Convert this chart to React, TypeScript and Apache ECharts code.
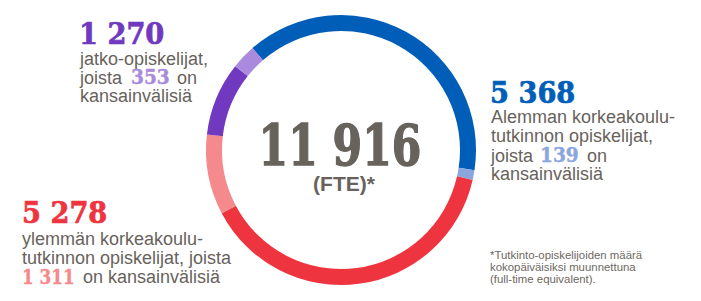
import React, { useEffect, useRef } from "react";
import * as echarts from "echarts";

// Ring segments (arc shares, in degrees of the ring)
const segmentNames = [
  "Alemman korkeakoulututkinnon opiskelijat (muut)",
  "Alemman korkeakoulututkinnon opiskelijat (kansainväliset)",
  "Ylemmän korkeakoulututkinnon opiskelijat (muut)",
  "Ylemmän korkeakoulututkinnon opiskelijat (kansainväliset)",
  "Jatko-opiskelijat (muut)",
  "Jatko-opiskelijat (kansainväliset)",
];
const segmentShares = [139.6, 4.2, 139.3, 34.5, 31.8, 10.6];

// Label numbers
const totalFTE = "11 916";
const totalUnit = "(FTE)*";
const bachelorTotal = "5 368";
const bachelorIntl = "139";
const masterTotal = "5 278";
const masterIntl = "1 311";
const doctoralTotal = "1 270";
const doctoralIntl = "353";
const footnoteLines = [
  "*Tutkinto-opiskelijoiden määrä",
  "kokopäiväisiksi muunnettuna",
  "(full-time equivalent).",
];

const COLORS = {
  blue: "#005eb8",
  lightBlue: "#8aa6dd",
  red: "#ee343f",
  pink: "#f48a8b",
  purple: "#7039bf",
  lightPurple: "#a98adc",
  grey: "#68625c",
  footGrey: "#6e6862",
};
const segmentColors = [
  COLORS.blue,
  COLORS.lightBlue,
  COLORS.red,
  COLORS.pink,
  COLORS.purple,
  COLORS.lightPurple,
];

const SANS = "'Liberation Sans', Arial, sans-serif";
const SERIF = "'DejaVu Serif', serif";

function bigNum(
  text: string,
  x: number,
  y: number,
  fill: string,
  size = 29,
  scaleX = 0.94,
  stroke = 0.7
) {
  return {
    type: "text",
    x,
    y,
    scaleX,
    silent: true,
    style: {
      text,
      fill,
      stroke: fill,
      lineWidth: stroke,
      fontFamily: SERIF,
      fontWeight: "bold",
      fontSize: size,
      textAlign: "left",
      textVerticalAlign: "middle",
    },
  };
}

function line(text: string, x: number, y: number, size = 18, fill = COLORS.grey) {
  return {
    type: "text",
    x,
    y,
    silent: true,
    style: {
      text,
      fill,
      fontFamily: SANS,
      fontSize: size,
      textAlign: "left",
      textVerticalAlign: "middle",
    },
  };
}

export default function App() {
  const ref = useRef<HTMLDivElement>(null);
  useEffect(() => {
    if (!ref.current) return;
    const chart = echarts.init(ref.current, undefined, { renderer: "svg" });
    chart.setOption({
      animation: false,
      backgroundColor: "#ffffff",
      series: [
        {
          type: "pie",
          center: [341, 150],
          radius: [119, 135],
          startAngle: 131,
          clockwise: true,
          silent: true,
          label: { show: false },
          labelLine: { show: false },
          emphasis: { disabled: true },
          itemStyle: { borderWidth: 0 },
          data: segmentShares.map((v, i) => ({
            name: segmentNames[i],
            value: v,
            itemStyle: { color: segmentColors[i] },
          })),
        },
      ],
      graphic: [
        // center
        {
          type: "text",
          x: 340,
          y: 145,
          scaleX: 0.76,
          silent: true,
          style: {
            text: totalFTE,
            fill: COLORS.grey,
            stroke: COLORS.grey,
            lineWidth: 1.4,
            fontFamily: SERIF,
            fontWeight: "bold",
            fontSize: 56,
            textAlign: "center",
            textVerticalAlign: "middle",
          },
        },
        {
          type: "text",
          x: 344,
          y: 183,
          silent: true,
          style: {
            text: totalUnit,
            fill: COLORS.grey,
            fontFamily: SANS,
            fontWeight: "bold",
            fontSize: 21,
            textAlign: "center",
            textVerticalAlign: "middle",
          },
        },
        // doctoral (top-left)
        bigNum(doctoralTotal, 79, 34, COLORS.purple),
        line("jatko-opiskelijat,", 80, 59),
        line("joista", 80, 77.5),
        bigNum(doctoralIntl, 131, 77.5, COLORS.lightPurple, 20, 0.93, 0.4),
        line("on", 177, 77.5),
        line("kansainvälisiä", 80, 96),
        // bachelor (right)
        bigNum(bachelorTotal, 490, 93, COLORS.blue),
        line("Alemman korkeakoulu-", 491, 117),
        line("tutkinnon opiskelijat,", 491, 135.5),
        line("joista", 491, 155.5),
        bigNum(bachelorIntl, 540, 155.5, COLORS.lightBlue, 20, 0.93, 0.4),
        line("on", 587, 155.5),
        line("kansainvälisiä", 491, 174),
        // master (bottom-left)
        bigNum(masterTotal, 22, 213.5, COLORS.red),
        line("ylemmän korkeakoulu-", 22, 239),
        line("tutkinnon opiskelijat, joista", 22, 258),
        bigNum(masterIntl, 22, 276.5, COLORS.pink, 20, 0.84, 0.4),
        line("on kansainvälisiä", 83, 276.5),
        // footnote
        ...footnoteLines.map((t, i) => line(t, 490, 255 + i * 12, 11.4, COLORS.footGrey)),
      ],
    });
    return () => chart.dispose();
  }, []);
  return (
    <div
      ref={ref}
      style={{ position: "fixed", left: 0, top: 0, width: 701, height: 301 }}
    />
  );
}
